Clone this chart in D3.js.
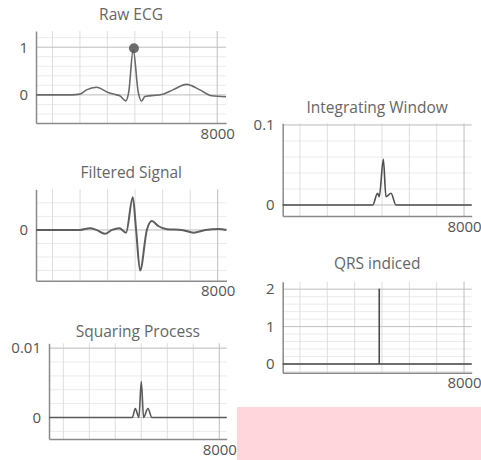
<!DOCTYPE html>
<html>
<head>
<meta charset="utf-8">
<script src="https://cdn.jsdelivr.net/npm/d3@7"></script>
<style>
  body { margin: 0; background: #fff; }
  svg { display: block; font-family: "Open Sans", sans-serif; }
</style>
</head>
<body>
<svg id="chart" width="481" height="460"></svg>
<script>

// ---- data (sample index, amplitude) ----
var rawSamples = [1400, 2700, 2995, 3239, 3604, 4027, 4333, 4453, 4672, 4780, 4940, 5120, 5245, 5365, 6020, 6385, 6885, 7370, 7797, 8320];
var rawValues  = [0, 0, 0.015, 0.105, 0.16, 0.05, 0, -0.02, -0.125, 0.07, 0.95, 0.07, -0.13, -0.035, 0.015, 0.105, 0.22, 0.105, -0.02, -0.04];
var rPeakSample = 4967, rPeakValue = 0.98;

var filtSamples = [1400, 3000, 3369, 3588, 3906, 4161, 4428, 4672, 4916, 5036, 5182, 5427, 5609, 5839, 6156, 6700, 7126, 7550, 8050, 8320];
var filtValues  = [0, 0, 0.025, 0, -0.058, 0, 0.025, -0.04, 0.483, 0, -0.6, 0, 0.13, 0.058, 0.01, 0, -0.04, 0, 0.015, 0];

var sqSamples = [1450, 4654, 4769, 4908, 5000, 5088, 5254, 5408, 8285];
var sqValues  = [0, 0, 0.0013, 0, 0.0052, 0, 0.0013, 0, 0];

var intSamples = [1370, 4657, 4840, 4900, 5050, 5145, 5330, 5510, 8280];
var intValues  = [0, 0, 0.0146, 0.0104, 0.057, 0.0104, 0.0146, 0, 0];

var qrsSamples = [1370, 4900, 4900, 4900, 8280];
var qrsValues  = [0, 0, 2, 0, 0];

var xGridTicks = [2000, 3000, 4000, 5000, 6000, 7000, 8000];
var xLabelTicks = [8000];

// ---- panel layout ----
var panels = [
  {title: "Raw ECG", xs: rawSamples, ys: rawValues, xDomain: [1400, 8320], yDomain: [-0.59, 1.34],
   left: 36, right: 226, top: 31, bottom: 123, titleY: 20,
   yLabels: [0, 1], yMajor: [0, 1], yMinor: d3.range(-0.4, 1.3, 0.2), marker: true, color: "#6a6a6a"},
  {title: "Filtered Signal", xs: filtSamples, ys: filtValues, xDomain: [1400, 8320], yDomain: [-0.75, 0.6],
   left: 36, right: 226.5, top: 189.3, bottom: 280.7, titleY: 177.5,
   yLabels: [0], yMajor: [0], yMinor: d3.range(-0.6, 0.7, 0.2), color: "#5e5e5e", width: 2},
  {title: "Squaring Process", xs: sqSamples, ys: sqValues, xDomain: [1450, 8285], yDomain: [-0.0031, 0.0107],
   left: 49, right: 226.7, top: 343.3, bottom: 439, titleY: 336.5,
   yLabels: [0, 0.01], yMajor: [0, 0.01], yMinor: d3.range(-0.002, 0.0105, 0.002), color: "#5a5a5a"},
  {title: "Integrating Window", xs: intSamples, ys: intValues, xDomain: [1370, 8280], yDomain: [-0.01375, 0.1021],
   left: 282.7, right: 471.7, top: 123.3, bottom: 216, titleY: 112.7,
   yLabels: [0, 0.1], yMajor: [0, 0.1], yMinor: d3.range(0, 0.105, 0.02), color: "#4f4f4f"},
  {title: "QRS indiced", xs: qrsSamples, ys: qrsValues, xDomain: [1370, 8280], yDomain: [-0.233, 2.2],
   left: 282.7, right: 471.7, top: 281.7, bottom: 372.7, titleY: 269.3,
   yLabels: [0, 1, 2], yMajor: [0, 1, 2], yMinor: d3.range(-0.2, 2.1, 0.2), linear: true, color: "#4a4a4a"}
];

var svg = d3.select("#chart");

// stray pink block bottom-right
svg.append("rect")
    .attr("x", 237).attr("y", 407)
    .attr("width", 244).attr("height", 53)
    .attr("fill", "#ffd6db");

function drawPanel(p) {
  var x = d3.scaleLinear().domain(p.xDomain).range([p.left, p.right]),
      y = d3.scaleLinear().domain(p.yDomain).range([p.bottom, p.top]);

  var g = svg.append("g");

  // minor horizontal grid
  g.append("g").selectAll("line")
    .data(p.yMinor.filter(function(d) { return d >= p.yDomain[0] && d <= p.yDomain[1]; }))
    .enter().append("line")
      .attr("x1", p.left).attr("x2", p.right)
      .attr("y1", function(d) { return y(d); })
      .attr("y2", function(d) { return y(d); })
      .attr("stroke", "#ebebeb");

  // vertical grid
  g.append("g").selectAll("line")
    .data(xGridTicks)
    .enter().append("line")
      .attr("x1", function(d) { return x(d); })
      .attr("x2", function(d) { return x(d); })
      .attr("y1", p.top).attr("y2", p.bottom)
      .attr("stroke", function(d) { return xLabelTicks.indexOf(d) >= 0 ? "#bdbdbd" : "#dedede"; });

  // major horizontal grid
  g.append("g").selectAll("line")
    .data(p.yMajor)
    .enter().append("line")
      .attr("x1", p.left).attr("x2", p.right)
      .attr("y1", function(d) { return y(d); })
      .attr("y2", function(d) { return y(d); })
      .attr("stroke", "#c4c4c4");

  // axes
  var fmt = function(d) { return String(d); };
  var yAxis = g.append("g")
      .attr("transform", "translate(" + p.left + ",0)")
      .call(d3.axisLeft(y).tickValues(p.yLabels).tickSize(0).tickPadding(8).tickFormat(fmt));

  var xAxis = g.append("g")
      .attr("transform", "translate(0," + p.bottom + ")")
      .call(d3.axisBottom(x).tickValues(xLabelTicks).tickSize(0).tickPadding(5).tickFormat(fmt));

  [yAxis, xAxis].forEach(function(a) {
    a.select(".domain").attr("stroke", "#8a8a8a").attr("stroke-width", 1.5);
    a.selectAll("text")
      .attr("fill", "#555")
      .style("font-size", "15px")
      .style("font-family", "'Open Sans', sans-serif");
  });

  // signal
  var pts = p.xs.map(function(s, i) { return [s, p.ys[i]]; });
  var line = d3.line()
      .curve(p.linear ? d3.curveLinear : d3.curveMonotoneX)
      .x(function(d) { return x(d[0]); })
      .y(function(d) { return y(d[1]); });

  g.append("path")
      .datum(pts)
      .attr("d", line)
      .attr("fill", "none")
      .attr("stroke", p.color)
      .attr("stroke-width", p.width || 1.6)
      .attr("stroke-linejoin", "round");

  if (p.marker) {
    g.append("circle")
      .attr("cx", x(rPeakSample))
      .attr("cy", y(rPeakValue))
      .attr("r", 5)
      .attr("fill", "#555")
      .attr("fill-opacity", 0.85);
  }

  // title
  g.append("text")
      .attr("x", (p.left + p.right) / 2)
      .attr("y", p.titleY)
      .attr("text-anchor", "middle")
      .attr("fill", "#666")
      .style("font-size", "15.5px")
      .text(p.title);
}

panels.forEach(drawPanel);

</script>
</body>
</html>
